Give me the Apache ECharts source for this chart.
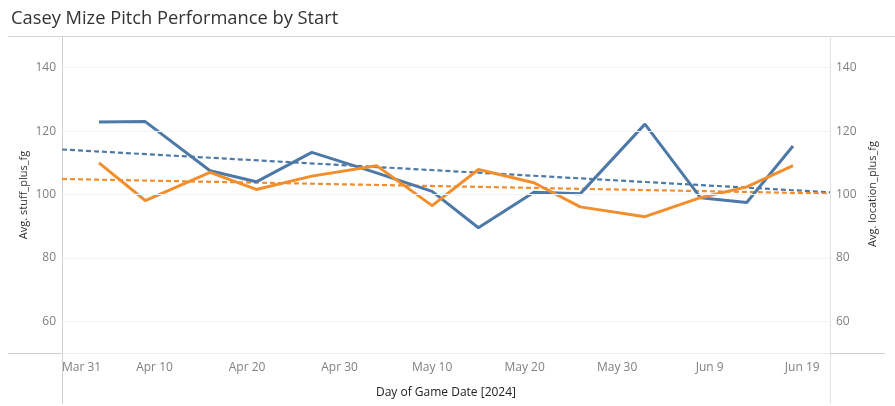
<!DOCTYPE html>
<html><head><meta charset="utf-8">
<script src="https://cdn.jsdelivr.net/npm/echarts@6/dist/echarts.min.js"></script>
<style>html,body{margin:0;padding:0;background:#fff}#c{width:895px;height:406px}</style>
</head><body><div id="c"></div>
<script>
// ---- data ----
const startDates = ['2024-04-04','2024-04-09','2024-04-16','2024-04-21','2024-04-27','2024-05-04','2024-05-10','2024-05-15','2024-05-21','2024-05-26','2024-06-02','2024-06-08','2024-06-13','2024-06-18'];
const stuffPlus    = [122.9, 123.0, 107.5, 104.0, 113.3, 106.8, 101.0, 89.5, 100.7, 100.2, 122.2, 99.0, 97.5, 115.3];
const locationPlus = [110.0,  98.1, 107.0, 101.6, 105.8, 109.1,  96.5, 107.9, 103.7, 96.1, 93.0, 99.0, 102.4, 109.1];
// trend lines: value at axis start and at axis end
const stuffTrend    = [114.2, 100.7];
const locationTrend = [104.9, 100.3];
const axisStart = '2024-03-31';
const axisEnd   = '2024-06-22';
const xTickStepDays = 10;
const yTicks = [60, 80, 100, 120, 140];
const yRange = [50, 150];
const leftAxisName = 'Avg. stuff_plus_fg';
const rightAxisName = 'Avg. location_plus_fg';

// ---- helpers ----
const DAY = 86400000;
const toUTC = s => { const p = s.split('-').map(Number); return Date.UTC(p[0], p[1]-1, p[2]); };
const t0 = toUTC(axisStart);
const dayOf = s => (toUTC(s) - t0) / DAY;
const endDay = dayOf(axisEnd);
const MONTHS = ['Jan','Feb','Mar','Apr','May','Jun','Jul','Aug','Sep','Oct','Nov','Dec'];
const fmtDay = v => { const d = new Date(t0 + v * DAY); return MONTHS[d.getUTCMonth()] + ' ' + d.getUTCDate(); };

const BLUE = '#4e79a7', ORANGE = '#f28e2b';
const FONT = '"Open Sans", "Noto Sans", sans-serif';

const chart = echarts.init(document.getElementById('c'), null, {renderer: 'canvas'});
const gl = (x1, y1, x2, y2, c) => ({type: 'line', silent: true, z: -1, shape: {x1, y1, x2, y2}, style: {stroke: c, lineWidth: 1}});
const vText = (x, y, t) => ({type: 'text', silent: true, x, y, rotation: Math.PI / 2,
  style: {text: t, fill: '#333', font: '11px ' + FONT, align: 'center', verticalAlign: 'middle'}});

const yAxisBase = (pos) => ({
  type: 'value', position: pos, min: yRange[0], max: yRange[1], interval: 10,
  axisLine: {show: false}, axisTick: {show: false}, splitLine: {show: false},
  axisLabel: {color: '#808080', fontSize: 12, fontFamily: FONT, margin: 6,
    formatter: v => yTicks.includes(v) ? String(v) : ''}
});

chart.setOption({
  animation: false,
  backgroundColor: '#fff',
  title: {text: 'Casey Mize Pitch Performance by Start', left: 6, top: 5,
    textStyle: {fontFamily: FONT, fontSize: 18.3, fontWeight: 'normal', color: '#333'}},
  grid: {left: 62, right: 65, top: 36, bottom: 53},
  xAxis: {
    type: 'value', min: 0, max: endDay, interval: xTickStepDays,
    name: 'Day of Game Date [2024]', nameLocation: 'middle', nameGap: 34,
    nameTextStyle: {color: '#222', fontSize: 12, fontFamily: FONT},
    axisLine: {show: false}, axisTick: {show: false}, splitLine: {show: false},
    axisLabel: {color: '#808080', fontSize: 12, fontFamily: FONT, margin: 9, alignMinLabel: 'left',
      formatter: v => (v % xTickStepDays === 0) ? fmtDay(v) : ''}
  },
  yAxis: [yAxisBase('left'), yAxisBase('right')],
  graphic: [
    gl(8, 36.5, 895, 36.5, '#d6d6d6'),
    gl(62.5, 36, 62.5, 404, '#cfcfcf'),
    gl(830.5, 36, 830.5, 404, '#e2e2e2'),
    gl(8, 353.5, 62, 353.5, '#cfcfcf'),
    gl(62, 353.5, 830, 353.5, '#ececec'),
    gl(830, 353.5, 885, 353.5, '#cfcfcf'),
    vText(24, 195, leftAxisName),
    vText(873, 194, rightAxisName)
  ],
  series: [
    {type: 'line', yAxisIndex: 0, silent: true, z: 1, data: [], symbol: 'none',
     markLine: {silent: true, symbol: ['none','none'], label: {show: false},
       lineStyle: {color: '#f3f3f3', type: 'solid', width: 1},
       data: yTicks.map(v => ({yAxis: v}))}},
    {name: 'stuff trend', type: 'line', yAxisIndex: 0, z: 2, symbol: 'none', silent: true,
     lineStyle: {color: BLUE, width: 2.2, type: [5, 3]},
     data: [[0, stuffTrend[0]], [endDay, stuffTrend[1]]]},
    {name: 'location trend', type: 'line', yAxisIndex: 1, z: 2, symbol: 'none', silent: true,
     lineStyle: {color: ORANGE, width: 2.2, type: [5, 3]},
     data: [[0, locationTrend[0]], [endDay, locationTrend[1]]]},
    {name: 'Avg. stuff_plus_fg', type: 'line', yAxisIndex: 0, z: 3, symbol: 'none',
     lineStyle: {color: BLUE, width: 3}, itemStyle: {color: BLUE},
     data: startDates.map((d, i) => [dayOf(d), stuffPlus[i]])},
    {name: 'Avg. location_plus_fg', type: 'line', yAxisIndex: 1, z: 4, symbol: 'none',
     lineStyle: {color: ORANGE, width: 3}, itemStyle: {color: ORANGE},
     data: startDates.map((d, i) => [dayOf(d), locationPlus[i]])}
  ]
});
</script></body></html>
